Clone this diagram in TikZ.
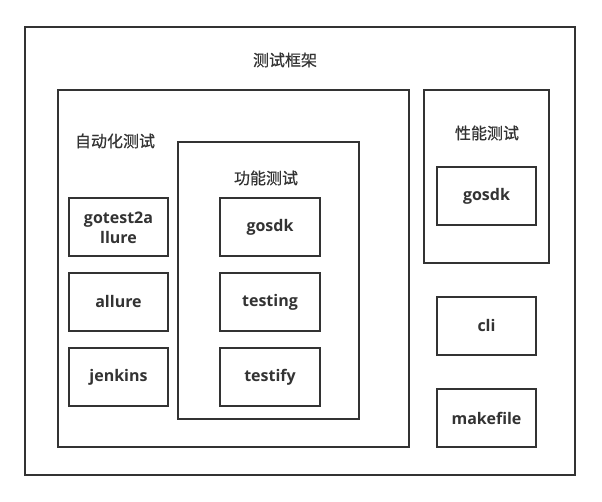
\documentclass[tikz,border=0pt]{standalone}
\usepackage{fontspec}
\setmainfont{Open Sans}
\newfontfamily\cjk[FakeBold=0.6]{Noto Sans CJK SC}
\definecolor{ink}{HTML}{333333}
\tikzset{
  frame/.style={draw=ink, line width=1.8pt, rectangle, inner sep=0pt},
  lbl/.style={text=ink, font=\cjk\fontsize{16}{18}\selectfont, inner sep=0pt},
  item/.style={text=ink, font=\fontsize{16}{20}\selectfont\bfseries, align=center, inner sep=0pt},
}
\begin{document}
\begin{tikzpicture}[x=1pt,y=-1pt]
\useasboundingbox (0,0) rectangle (602,502);
\fill[white] (0,0) rectangle (602,502);
% containers
\draw[frame] (25,27) rectangle (575,475);
\draw[frame] (58,90) rectangle (409,447);
\draw[frame] (178,142) rectangle (359,419);
\draw[frame] (424,90) rectangle (549,263);
% titles
\node[lbl] (tFrame) at (285,60) {测试框架};
\node[lbl] (tAuto) at (115,141) {自动化测试};
\node[lbl] (tFunc) at (266,178) {功能测试};
\node[lbl] (tPerf) at (487,133) {性能测试};
% boxes
\draw[frame] (69,198) rectangle (168,256);
\node[item] (gotest) at (118.5,228) {gotest2a\\llure};
\draw[frame] (69,273) rectangle (168,331);
\node[item] (allure) at (118.5,302) {allure};
\draw[frame] (69,348) rectangle (168,406);
\node[item] (jenkins) at (118.5,377) {jenkins};
\draw[frame] (220,198) rectangle (320,256);
\node[item] (gosdkA) at (270,227) {gosdk};
\draw[frame] (220,273) rectangle (320,331);
\node[item] (testing) at (270,302) {testing};
\draw[frame] (220,348) rectangle (320,406);
\node[item] (testify) at (270,377) {testify};
\draw[frame] (437,167) rectangle (536,225);
\node[item] (gosdkB) at (486.5,196) {gosdk};
\draw[frame] (437,297) rectangle (536,355);
\node[item] (cli) at (486.5,326) {cli};
\draw[frame] (437,389) rectangle (536,447);
\node[item] (makefile) at (486.5,418) {makefile};
\end{tikzpicture}
\end{document}
